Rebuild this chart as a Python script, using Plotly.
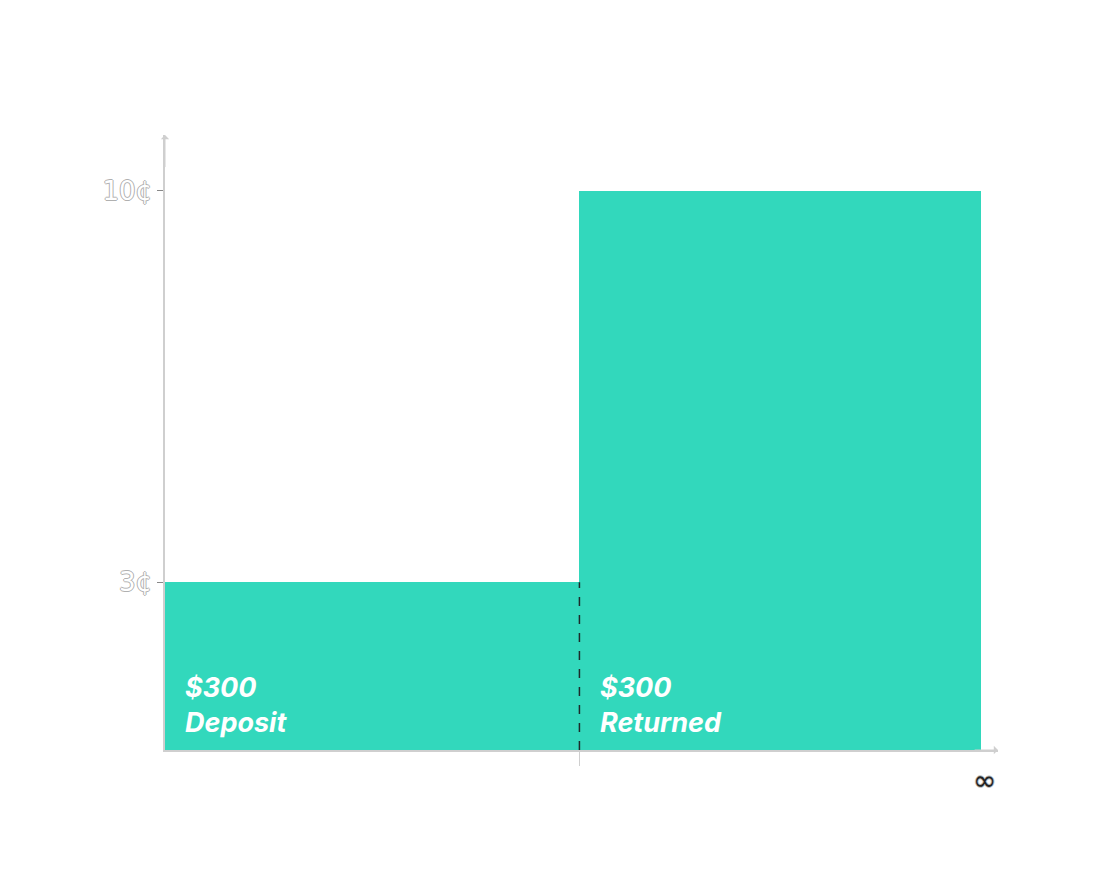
import plotly.graph_objects as go

# data
bar_labels = ["$300<br>Deposit", "$300<br>Returned"]
bar_starts = [0.0, 1.0]
bar_widths = [1.0, 0.97]
bar_values = [3, 10]
y_tick_vals = [3, 10]
y_tick_text = ["3¢", "10¢"]
x_end_label = "∞"

teal = "#32D8BC"
axis_gray = "#cfcfcf"
outline_shadow = "1px 0 0 #b0b0b0, -1px 0 0 #b0b0b0, 0 1px 0 #b0b0b0, 0 -1px 0 #b0b0b0"

fig = go.Figure()
fig.add_trace(go.Bar(
    x=[s + w / 2 for s, w in zip(bar_starts, bar_widths)],
    y=bar_values,
    width=bar_widths,
    marker=dict(color=teal, line=dict(width=0)),
    hoverinfo="skip",
))
# dashed divider at boundary between bars
fig.add_trace(go.Scatter(
    x=[bar_starts[1], bar_starts[1]], y=[0, bar_values[0]],
    mode="lines", line=dict(color="#1d2b2b", width=1.5, dash="dash"),
    hoverinfo="skip",
))

for s, lab in zip(bar_starts, bar_labels):
    fig.add_annotation(
        x=s + 0.044, y=0.8, xref="x", yref="y", text="<b><i>" + lab + "</i></b>",
        showarrow=False, xanchor="left", yanchor="middle", align="left",
        font=dict(family="Inter, Roboto, sans-serif", size=27, color="white"),
    )

# axis arrows
fig.add_annotation(x=0, y=11.0, ax=0, ay=10.4, xref="x", yref="y", axref="x", ayref="y",
                   text="", showarrow=True, arrowhead=1, arrowsize=1.4, arrowwidth=1,
                   arrowcolor=axis_gray)
fig.add_annotation(x=2.01, y=0, ax=1.95, ay=0, xref="x", yref="y", axref="x", ayref="y",
                   text="", showarrow=True, arrowhead=1, arrowsize=1.4, arrowwidth=1,
                   arrowcolor=axis_gray)
fig.add_annotation(x=0.984, y=-0.049, xref="paper", yref="paper", text=x_end_label,
                   showarrow=False, xanchor="center", yanchor="middle",
                   font=dict(family="DejaVu Sans", size=28, color="#222",
                             shadow="1px 0 0 #bbb, -1px 0 0 #bbb, 0 1px 0 #bbb, 0 -1px 0 #bbb"))

fig.update_layout(
    width=1100, height=888,
    paper_bgcolor="white", plot_bgcolor="white",
    margin=dict(l=157, r=110, t=127, b=146),
    showlegend=False,
    bargap=0,
    xaxis=dict(range=[0, 2.01], showgrid=False, zeroline=False, showline=True,
               linecolor=axis_gray, linewidth=1.5, tickvals=[1], ticktext=[""],
               ticks="outside", ticklen=14, tickcolor=axis_gray, fixedrange=True),
    yaxis=dict(range=[0, 11], showgrid=False, zeroline=False, showline=True,
               linecolor=axis_gray, linewidth=1.5, tickvals=y_tick_vals, ticktext=y_tick_text,
               ticks="outside", ticklen=6, tickcolor="#888",
               tickfont=dict(family="DejaVu Sans", size=26, color="white", shadow=outline_shadow),
               fixedrange=True),
)

fig.write_html("out.html")
